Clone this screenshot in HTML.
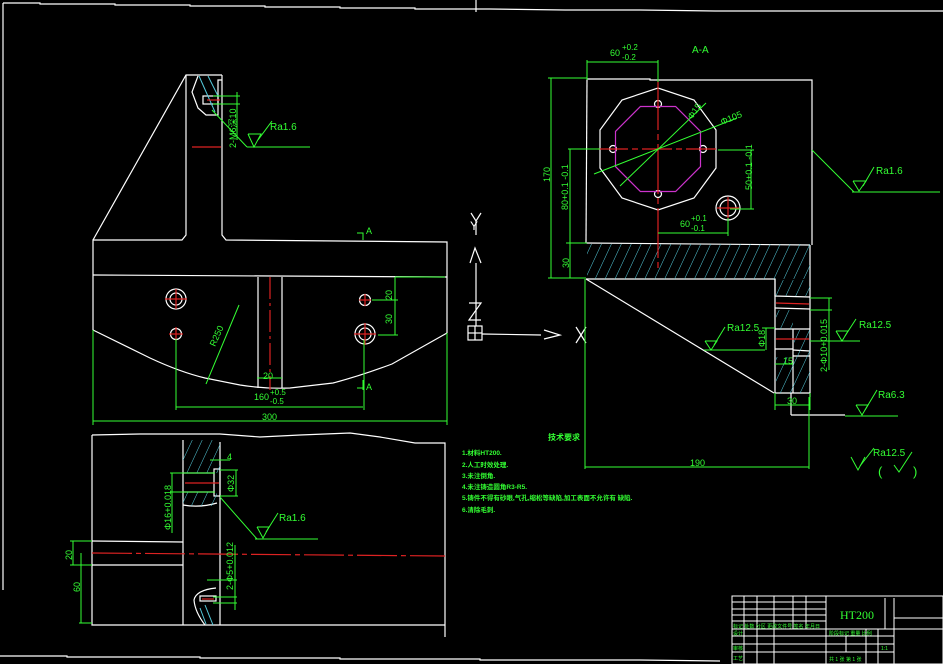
<!DOCTYPE html>
<html><head><meta charset="utf-8"><style>
html,body{margin:0;padding:0;background:#000;}
svg{display:block}
text{font-family:"Liberation Sans","Noto Sans CJK SC",sans-serif;fill:#3f3;}
</style></head><body>
<svg width="943" height="664" viewBox="0 0 943 664" xmlns="http://www.w3.org/2000/svg">
<defs>
<pattern id="h" width="9" height="9" patternUnits="userSpaceOnUse" patternTransform="rotate(25)">
<line x1="0" y1="0" x2="0" y2="9" stroke="#5cd" stroke-width="1"/>
</pattern>
</defs>
<rect width="943" height="664" fill="#000"/>
<!-- border -->
<g stroke="#fff" stroke-width="1.2" fill="none">
<polyline points="3,3 40,3 40,4 115,4 115,5 190,5 190,6 265,6 265,7 340,7 340,8 415,8 415,9 490,9 490,9 565,10 640,10 715,11 790,11 943,11"/>
<line x1="476" y1="0" x2="476" y2="12"/>
<line x1="3" y1="3" x2="3" y2="590"/>
<polyline points="0,656 67,656 67,657 200,657 200,658 340,658 340,659 480,659 480,660 640,660 720,661"/>
</g>

<!-- TOP LEFT VIEW -->
<g stroke="#fff" stroke-width="1.2" fill="none">
<polyline points="93,240 186,75 222,75"/>
<polyline points="186,75 186,235 182,240 93,240 93,330"/>
<polyline points="222,75 222,235 226,240 447,242 447,333"/>
<line x1="93" y1="275" x2="447" y2="277"/>
<path d="M93,330 L150,358 Q180,372 205,378 L240,385 Q265,389 290,388 L333,383 Q360,376 392,364 L447,333"/>
<line x1="258" y1="277" x2="258" y2="388"/>
<line x1="282" y1="277" x2="282" y2="388"/>
<circle cx="176" cy="299" r="10"/><circle cx="176" cy="299" r="6"/>
<circle cx="176" cy="334" r="5.5"/>
<circle cx="365" cy="300" r="5.5"/>
<circle cx="365" cy="334" r="10"/><circle cx="365" cy="334" r="6"/>
<polyline points="198,76 192,92 198,108 206,115 218,115 218,80 222,80"/>
<rect x="203" y="96" width="15" height="8"/>
</g>
<g stroke="#5cd" fill="none"><line x1="199" y1="76" x2="215" y2="112"/><line x1="208" y1="76" x2="218" y2="96"/></g>
<g stroke="#d22" stroke-width="1.2">
<line x1="192" y1="147" x2="221" y2="147"/>
<line x1="207" y1="100" x2="220" y2="100"/>
<line x1="270" y1="277" x2="270" y2="390" stroke-dasharray="22,4,3,4"/>
<line x1="165" y1="299" x2="187" y2="299"/><line x1="176" y1="289" x2="176" y2="309"/>
<line x1="169" y1="334" x2="183" y2="334"/><line x1="176" y1="327" x2="176" y2="341"/>
<line x1="359" y1="300" x2="371" y2="300"/><line x1="365" y1="294" x2="365" y2="306"/>
<line x1="354" y1="334" x2="376" y2="334"/><line x1="365" y1="323" x2="365" y2="345"/>
</g>
<g stroke="#3f3" stroke-width="1" fill="none">
<line x1="213" y1="96" x2="240" y2="96"/><line x1="213" y1="104" x2="240" y2="104"/>
<line x1="237" y1="92" x2="237" y2="140"/>
<line x1="212" y1="110" x2="247" y2="147"/>
<polyline points="247,147 310,147"/>
<polyline points="248,134 254,147 261,134 248,134"/><line x1="258" y1="140" x2="272" y2="121"/>
<line x1="395" y1="277" x2="445" y2="277"/><line x1="372" y1="300" x2="398" y2="300"/><line x1="378" y1="335" x2="398" y2="335"/>
<line x1="395" y1="277" x2="395" y2="335"/>
<line x1="93" y1="330" x2="93" y2="425"/><line x1="447" y1="333" x2="447" y2="425"/>
<line x1="93" y1="421" x2="447" y2="421"/>
<line x1="176" y1="339" x2="176" y2="410"/><line x1="364" y1="340" x2="364" y2="410"/>
<line x1="176" y1="407" x2="363" y2="407"/>
<line x1="257" y1="378" x2="282" y2="378"/>
<line x1="206" y1="384" x2="239" y2="305"/>
<polyline points="357,233 363,233 363,240"/>
<line x1="357" y1="388" x2="363" y2="388"/><line x1="363" y1="380" x2="363" y2="390"/>
</g>
<g font-size="9">
<text x="270" y="130" font-size="10">Ra1.6</text>
<text x="236" y="148" transform="rotate(-90 236 148)">2-M6深10</text>
<text x="366" y="234">A</text>
<text x="366" y="390">A</text>
<text x="392" y="300" transform="rotate(-90 392 300)">20</text>
<text x="392" y="324" transform="rotate(-90 392 324)">30</text>
<text x="215" y="347" transform="rotate(-66 215 347)">R250</text>
<text x="263" y="379">20</text>
<text x="254" y="400">160</text><text x="270" y="395" font-size="8">+0.5</text><text x="270" y="404" font-size="8">-0.5</text>
<text x="262" y="420">300</text>
</g>

<!-- BOTTOM LEFT VIEW -->
<g stroke="#fff" stroke-width="1.2" fill="none">
<polyline points="92,435 140,434 180,434 220,434 260,437 300,435 350,433 380,437 415,443 445,443 445,637"/>
<polyline points="92,435 92,625 445,625"/>
<line x1="183" y1="440" x2="183" y2="625"/>
<line x1="220" y1="442" x2="220" y2="625"/>
<line x1="92" y1="541" x2="183" y2="542"/>
<line x1="92" y1="565" x2="183" y2="565"/>
<line x1="183" y1="473" x2="214" y2="473"/><line x1="183" y1="492" x2="214" y2="492"/>
<rect x="214" y="469" width="6" height="27"/>
<path d="M183,505 Q200,508 217,503"/>
<path d="M216,588 Q196,590 194,600 Q195,612 205,625"/>
<rect x="200" y="596" width="16" height="5"/>
</g>
<rect x="183" y="440" width="37" height="33" fill="url(#h)"/>
<rect x="183" y="492" width="34" height="14" fill="url(#h)"/>
<g stroke="#5cd"><line x1="205" y1="605" x2="213" y2="625"/><line x1="200" y1="608" x2="206" y2="624"/></g>
<g stroke="#d22" stroke-width="1.2">
<line x1="185" y1="483" x2="219" y2="483"/>
<line x1="92" y1="553" x2="445" y2="556" stroke-dasharray="40,4,5,4"/>
<line x1="202" y1="599" x2="214" y2="599"/>
</g>
<g stroke="#3f3" stroke-width="1" fill="none">
<line x1="170" y1="473" x2="215" y2="473"/><line x1="170" y1="492" x2="215" y2="492"/>
<line x1="172" y1="473" x2="172" y2="533"/>
<line x1="220" y1="470" x2="238" y2="470"/><line x1="220" y1="496" x2="238" y2="496"/><line x1="236" y1="470" x2="236" y2="496"/>
<line x1="210" y1="460" x2="230" y2="460"/>
<line x1="220" y1="497" x2="257" y2="539"/>
<line x1="255" y1="539" x2="318" y2="539"/>
<polyline points="257,527 263,538 269,527 257,527"/><line x1="266" y1="532" x2="278" y2="513"/>
<line x1="70" y1="541" x2="92" y2="541"/><line x1="70" y1="565" x2="92" y2="565"/>
<line x1="73" y1="541" x2="73" y2="565"/><line x1="81" y1="553" x2="81" y2="623"/>
<line x1="79" y1="623" x2="92" y2="623"/>
<line x1="235" y1="545" x2="235" y2="610"/>
<line x1="207" y1="580" x2="237" y2="580"/><line x1="213" y1="597" x2="237" y2="597"/><line x1="213" y1="603" x2="237" y2="603"/>
</g>
<g font-size="9">
<text x="227" y="460">4</text>
<text x="234" y="492" transform="rotate(-90 234 492)">Φ32</text>
<text x="171" y="530" transform="rotate(-90 171 530)">Φ16+0.018</text>
<text x="279" y="521" font-size="10">Ra1.6</text>
<text x="72" y="560" transform="rotate(-90 72 560)">20</text>
<text x="80" y="592" transform="rotate(-90 80 592)">60</text>
<text x="233" y="590" transform="rotate(-90 233 590)">2-Φ5+0.012</text>
</g>

<!-- notes -->
<g font-size="6.5" font-weight="bold">
<text x="548" y="440" font-size="8">技术要求</text>
<text x="462" y="455">1.材料HT200.</text>
<text x="462" y="467">2.人工时效处理.</text>
<text x="462" y="478">3.未注倒角.</text>
<text x="462" y="489">4.未注铸造圆角R3-R5.</text>
<text x="462" y="500">5.铸件不得有砂眼,气孔,缩松等缺陷,加工表面不允许有 缺陷.</text>
<text x="462" y="512">6.清除毛刺.</text>
</g>

<!-- axis -->
<g stroke="#fff" stroke-width="1.2" fill="none">
<polyline points="471,213 476,221 481,213"/><line x1="476" y1="221" x2="476" y2="235"/>
<line x1="476" y1="263" x2="476" y2="326"/>
<polyline points="470,263 475,248 481,263"/>
<polyline points="469,303 481,303 469,320 481,320"/>
<rect x="468" y="326" width="14" height="14"/><line x1="475" y1="326" x2="475" y2="340"/><line x1="468" y1="333" x2="482" y2="333"/>
<line x1="482" y1="334" x2="541" y2="335"/>
<polyline points="544,330 560,335 544,339"/>
<line x1="576" y1="327" x2="586" y2="343"/><line x1="586" y1="327" x2="576" y2="343"/>
</g>
<text x="470" y="230" font-size="12" style="fill:#fff">Y</text>

<!-- RIGHT VIEW -->
<g stroke="#fff" stroke-width="1.2" fill="none">
<polyline points="587,79 650,79 650,80 812,80 812,245"/>
<line x1="587" y1="79" x2="586" y2="243"/>
<line x1="586" y1="243" x2="810" y2="245"/>
<polyline points="586,279 775,279 775,296 810,297"/>
<line x1="810" y1="245" x2="810" y2="397"/>
<line x1="586" y1="279" x2="774" y2="393"/>
<polyline points="775,279 775,393 810,393"/>
<line x1="775" y1="308" x2="810" y2="309"/>
<line x1="775" y1="329" x2="810" y2="329"/>
<line x1="775" y1="349" x2="793" y2="349"/>
<line x1="793" y1="329" x2="793" y2="393"/>
<polyline points="793,350 810,351"/>
<line x1="793" y1="356" x2="810" y2="356"/>
<line x1="791" y1="393" x2="791" y2="415"/><line x1="791" y1="415" x2="845" y2="415"/>
<polygon points="716,130 694,100 658,88 622,100 600,130 600,168 622,198 658,210 694,198 716,168"/>
<circle cx="728" cy="208" r="12"/><circle cx="728" cy="208" r="8"/>
<circle cx="658" cy="104" r="3.5"/><circle cx="613" cy="149" r="3.5"/><circle cx="703" cy="149" r="3.5"/><circle cx="658" cy="194" r="3.5"/>
</g>
<rect x="587" y="244" width="223" height="35" fill="url(#h)"/>
<rect x="776" y="280" width="34" height="16" fill="url(#h)"/>
<rect x="776" y="310" width="17" height="19" fill="url(#h)"/>
<rect x="776" y="357" width="34" height="36" fill="url(#h)"/>
<rect x="794" y="330" width="16" height="27" fill="url(#h)"/>
<polygon points="700.5,131.4 675.6,106.5 640.4,106.5 615.5,131.4 615.5,166.6 640.4,191.5 675.6,191.5 700.5,166.6" fill="none" stroke="#c3c" stroke-width="1.2"/>
<g stroke="#d22" stroke-width="1.2">
<line x1="598" y1="149" x2="718" y2="149" stroke-dasharray="30,4,6,4"/>
<line x1="658" y1="80" x2="658" y2="272" stroke-dasharray="50,4,6,4"/>
<line x1="717" y1="208" x2="739" y2="208"/><line x1="728" y1="197" x2="728" y2="219"/>
<line x1="776" y1="303" x2="809" y2="304"/><line x1="776" y1="339" x2="809" y2="339"/>
</g>
<g stroke="#3f3" stroke-width="1" fill="none">
<line x1="587" y1="62" x2="658" y2="62"/><line x1="587" y1="60" x2="587" y2="80"/><line x1="658" y1="60" x2="658" y2="82"/>
<line x1="548" y1="78" x2="587" y2="78"/><line x1="551" y1="78" x2="551" y2="278"/>
<line x1="548" y1="278" x2="586" y2="278"/>
<line x1="568" y1="149" x2="600" y2="149"/><line x1="570" y1="149" x2="570" y2="278"/>
<line x1="566" y1="243" x2="587" y2="243"/>
<line x1="718" y1="150" x2="754" y2="150"/><line x1="730" y1="209" x2="754" y2="209"/><line x1="751" y1="150" x2="751" y2="209"/>
<line x1="658" y1="233" x2="728" y2="233"/><line x1="728" y1="218" x2="728" y2="236"/>
<line x1="594" y1="174" x2="737" y2="118"/>
<line x1="620" y1="186" x2="706" y2="103"/>
<line x1="812" y1="150" x2="854" y2="192"/><line x1="852" y1="192" x2="940" y2="192"/>
<polyline points="853,181 859,191 866,181 853,181"/><line x1="863" y1="186" x2="874" y2="167"/>
<line x1="704" y1="350" x2="765" y2="350"/><polyline points="705,341 711,350 717,341 705,341"/><line x1="714" y1="345" x2="725" y2="327"/>
<line x1="762" y1="328" x2="775" y2="328"/><line x1="766" y1="328" x2="766" y2="350"/>
<line x1="810" y1="298" x2="832" y2="298"/><line x1="810" y1="310" x2="832" y2="310"/><line x1="829" y1="298" x2="829" y2="370"/>
<line x1="810" y1="341" x2="860" y2="341"/>
<polyline points="836,331 842,341 848,331 836,331"/><line x1="845" y1="336" x2="856" y2="319"/>
<line x1="775" y1="364" x2="793" y2="364"/>
<line x1="775" y1="405" x2="810" y2="405"/><line x1="775" y1="393" x2="775" y2="410"/><line x1="810" y1="393" x2="810" y2="410"/>
<line x1="845" y1="416" x2="898" y2="416"/><polyline points="856,405 862,415 868,405 856,405"/><line x1="865" y1="410" x2="877" y2="390"/>
<line x1="585" y1="279" x2="585" y2="469"/><line x1="809" y1="397" x2="809" y2="469"/>
<line x1="585" y1="467" x2="809" y2="467"/>
<polyline points="851,457 858,470 865,457"/><line x1="860" y1="466" x2="874" y2="448"/>
<polyline points="894,465 899,472 912,452"/>
</g>
<g font-size="9">
<text x="610" y="56">60</text><text x="622" y="50" font-size="8">+0.2</text><text x="622" y="60" font-size="8">-0.2</text>
<text x="692" y="53" font-size="10">A-A</text>
<text x="550" y="182" transform="rotate(-90 550 182)">170</text>
<text x="568" y="210" transform="rotate(-90 568 210)">80+0.1 -0.1</text>
<text x="569" y="268" transform="rotate(-90 569 268)">30</text>
<text x="752" y="190" transform="rotate(-90 752 190)">50+0.1 -0.1</text>
<text x="680" y="227">60</text><text x="691" y="221" font-size="8">+0.1</text><text x="691" y="231" font-size="8">-0.1</text>
<text x="692" y="120" transform="rotate(-55 692 120)">Φ15</text>
<text x="722" y="125" transform="rotate(-22 722 125)">Φ105</text>
<text x="876" y="174" font-size="10">Ra1.6</text>
<text x="727" y="331" font-size="10">Ra12.5</text>
<text x="765" y="347" transform="rotate(-90 765 347)">Φ18</text>
<text x="783" y="364">15</text>
<text x="827" y="372" transform="rotate(-90 827 372)">2-Φ10+0.015</text>
<text x="859" y="328" font-size="10">Ra12.5</text>
<text x="878" y="398" font-size="10">Ra6.3</text>
<text x="787" y="404">30</text>
<text x="690" y="466">190</text>
<text x="873" y="456" font-size="10">Ra12.5</text>
<text x="878" y="476" font-size="13">(</text><text x="913" y="476" font-size="13">)</text>
</g>

<!-- title block -->
<g stroke="#fff" stroke-width="1" fill="none">
<rect x="732" y="596" width="211" height="68"/>
<line x1="732" y1="602" x2="826" y2="602"/>
<line x1="732" y1="609" x2="826" y2="609"/>
<line x1="732" y1="615" x2="826" y2="615"/>
<line x1="732" y1="621" x2="826" y2="621"/>
<line x1="732" y1="629" x2="943" y2="629"/>
<line x1="732" y1="636" x2="826" y2="636"/>
<line x1="732" y1="644" x2="894" y2="644"/>
<line x1="732" y1="652" x2="894" y2="652"/>
<line x1="826" y1="636" x2="894" y2="636"/>
<line x1="744" y1="596" x2="744" y2="664"/>
<line x1="757" y1="596" x2="757" y2="664"/>
<line x1="774" y1="596" x2="774" y2="664"/>
<line x1="793" y1="596" x2="793" y2="629"/>
<line x1="806" y1="596" x2="806" y2="629"/>
<line x1="826" y1="596" x2="826" y2="664"/>
<line x1="885" y1="598" x2="885" y2="629"/>
<line x1="846" y1="636" x2="846" y2="652"/>
<line x1="866" y1="629" x2="866" y2="664"/>
<line x1="878" y1="629" x2="878" y2="664"/>
<line x1="894" y1="598" x2="894" y2="664"/>
<line x1="894" y1="618" x2="943" y2="618"/>
</g>
<text x="840" y="619" font-size="12" font-family="Liberation Serif" style="font-family:'Liberation Serif',serif;fill:#3f3">HT200</text>
<g font-size="5" style="fill:#fff">
<text x="733" y="628">标记 处数 分区 更改文件号 签名 年月日</text>
<text x="733" y="635">设计</text><text x="733" y="650">审核</text><text x="733" y="660">工艺</text>
<text x="829" y="635">阶段标记 重量 比例</text>
<text x="881" y="650">1:1</text>
<text x="829" y="661">共 1 张 第 1 张</text>
</g>
</svg>
</body></html>
